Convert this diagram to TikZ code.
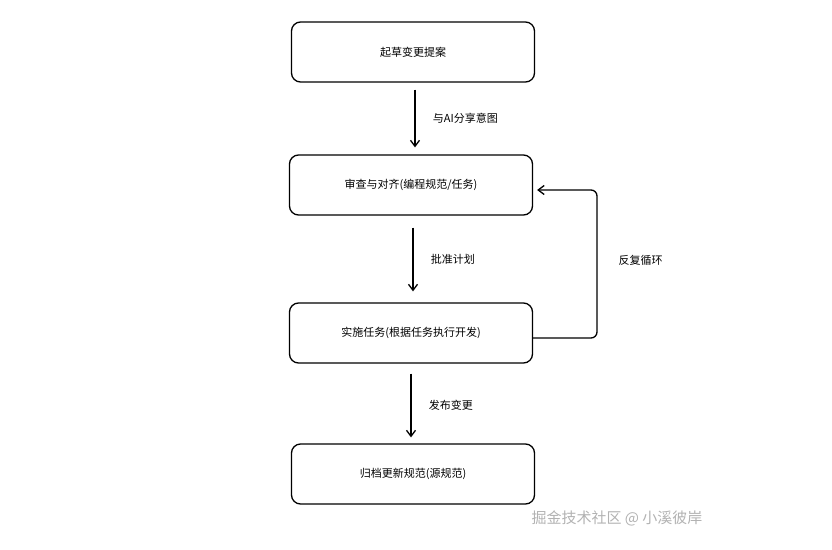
\documentclass[tikz,border=0pt]{standalone}
\usepackage{fontspec}
\setmainfont{Noto Sans CJK SC}
\usetikzlibrary{positioning,arrows.meta}
\tikzset{
  stage/.style={draw=black, line width=1.3pt, rounded corners=9pt, minimum width=243pt, minimum height=60pt, font=\fontsize{11}{13}\selectfont},
  flow/.style={-{Straight Barb[length=6pt,width=9pt]}, line width=1.3pt},
  note/.style={font=\fontsize{11}{13}\selectfont, anchor=west}
}
\begin{document}
\begin{tikzpicture}[x=1pt,y=-1pt]
\useasboundingbox (0,0) rectangle (832,549);
\node [stage] (draft) at (413,52) {起草变更提案};
\node [stage] (review) at (411,185) {审查与对齐(编程规范/任务)};
\node [stage] (impl) at (411,333) {实施任务(根据任务执行开发)};
\node [stage] (archive) at (413,474) {归档更新规范(源规范)};
\draw [flow] ([xshift=2pt,yshift=-7pt]draft.south) -- ([xshift=4pt,yshift=7pt]review.north) node [note, midway, right=14pt] {与AI分享意图};
\draw [flow] ([xshift=2pt,yshift=-12pt]review.south) -- ([xshift=2pt,yshift=11pt]impl.north) node [note, midway, right=14pt] {批准计划};
\draw [flow] ([yshift=-10pt]impl.south) -- ([xshift=-2pt,yshift=6pt]archive.north) node [note, midway, right=14pt] {发布变更};
\coordinate (loopr) at (597,338);
\coordinate (loopt) at (597,190);
\draw [flow, rounded corners=6pt] ([yshift=-5pt]impl.east) -- (loopr) -- (loopt) -- ([xshift=4pt,yshift=-5pt]review.east);
\node [note] (looplbl) at (615,260) {反复循环};
\node [note, text=gray!60, font=\fontsize{15}{17}\selectfont] (mark) at (528,518) {掘金技术社区 @ 小溪彼岸};
\end{tikzpicture}
\end{document}
